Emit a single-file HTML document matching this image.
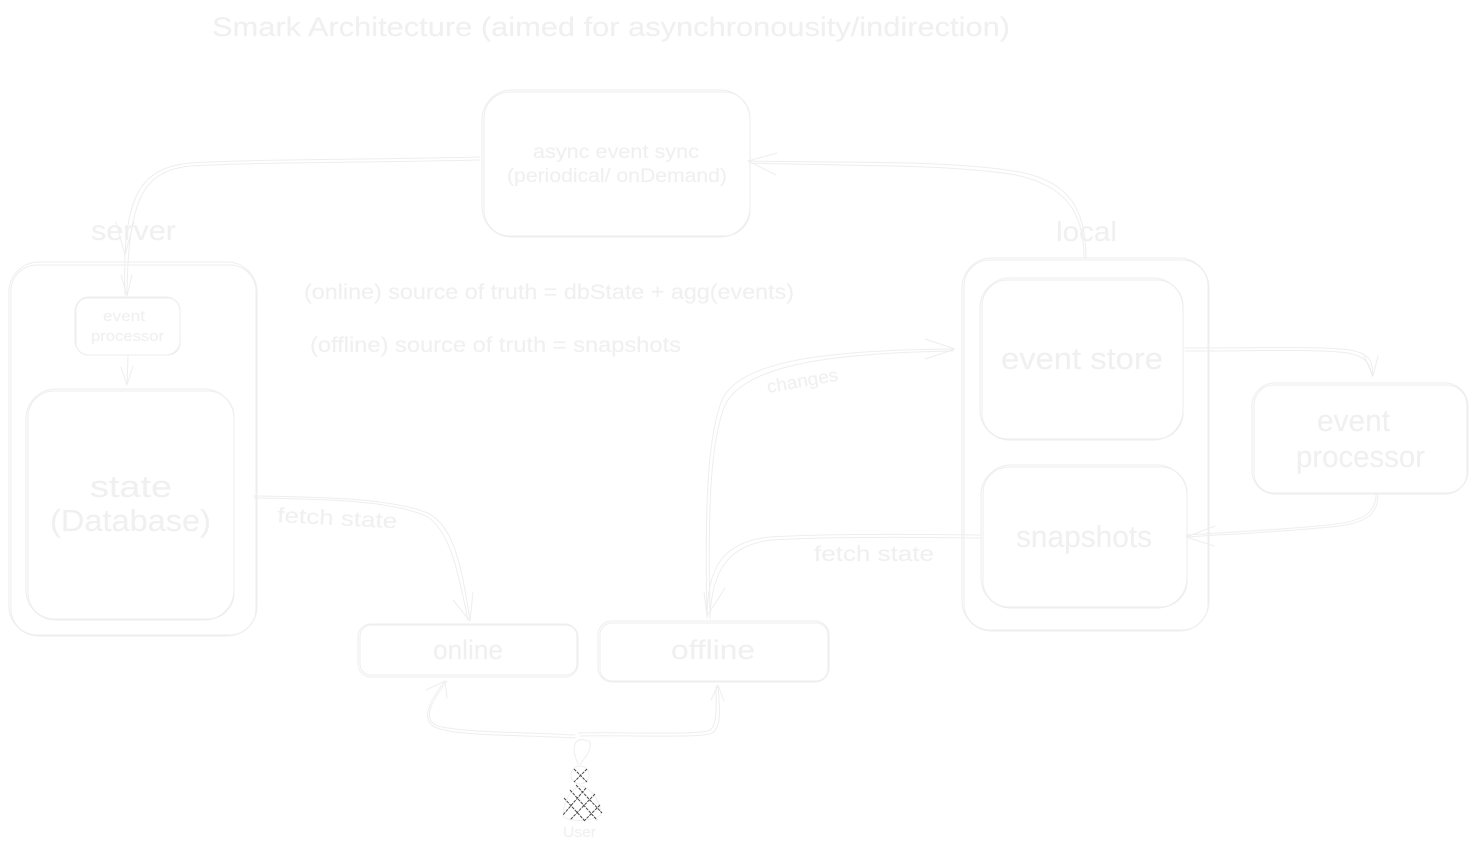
<!DOCTYPE html>
<html><head><meta charset="utf-8"><style>
html,body{margin:0;padding:0;background:#fff}
svg{display:block}
.l{fill:none;stroke:#eeeeee;stroke-width:1;stroke-linecap:round;stroke-linejoin:round}
text{font-family:"Liberation Sans",sans-serif;fill:#f0f0f0;stroke:#f2f2f2;stroke-width:.2}
</style></head><body>
<svg width="1478" height="852" viewBox="0 0 1478 852" xmlns="http://www.w3.org/2000/svg">
<g class="l">
<rect x="11" y="265" width="245" height="370" rx="26"/><rect x="9" y="262" width="248" height="374" rx="30"/>
<rect x="76" y="298" width="104" height="57" rx="12"/><rect x="75" y="297" width="105" height="58" rx="14"/>
<rect x="28" y="391" width="206" height="228" rx="26"/><rect x="26" y="389" width="208" height="231" rx="30"/>
<rect x="484" y="92" width="266" height="144" rx="26"/><rect x="482" y="90" width="268" height="147" rx="30"/>
<rect x="964" y="260" width="244" height="370" rx="26"/><rect x="962" y="258" width="247" height="373" rx="30"/>
<rect x="982" y="280" width="201" height="159" rx="26"/><rect x="980" y="278" width="203" height="162" rx="30"/>
<rect x="983" y="467" width="204" height="140" rx="26"/><rect x="981" y="465" width="206" height="143" rx="30"/>
<rect x="1254" y="385" width="213" height="108" rx="20"/><rect x="1252" y="383" width="216" height="111" rx="23"/>
<rect x="360" y="625" width="217" height="50" rx="11"/><rect x="358" y="624" width="220" height="53" rx="13"/>
<rect x="600" y="623" width="228" height="58" rx="12"/><rect x="598" y="621" width="231" height="61" rx="14"/>
<path d="M480 157C350 160 260 159 190 163C140 168 122 195 125 295"/><path d="M480 160C350 163 260 162 190 166C145 171 128 195 127 295"/>
<path d="M116 222L125 255L134 222M121 275L127 296L132 275"/>
<path d="M128 356L127 385M121 367L127 385L133 366"/>
<path d="M1086 258C1086 210 1070 182 1020 172C950 160 850 163 750 161"/><path d="M1084 258C1084 212 1066 186 1016 175C950 164 850 166 750 163"/>
<path d="M777 153L748 161L776 175"/>
<path d="M1185 348C1260 348 1320 346 1350 350C1372 354 1372 362 1373 376"/><path d="M1185 351C1260 351 1320 349 1348 353C1368 357 1370 365 1372 376"/>
<path d="M1364 356L1373 376L1378 356"/>
<path d="M1378 495C1378 515 1365 524 1330 527C1280 532 1230 534 1186 537"/><path d="M1376 495C1376 513 1362 522 1328 525C1280 530 1230 532 1186 535"/>
<path d="M1215 526L1186 537L1214 546"/>
<path d="M980 535C900 534 820 534 770 537C720 542 708 570 707 616"/><path d="M980 538C900 537 820 537 772 540C725 545 712 575 710 616"/>
<path d="M704 592L707 616L725 588"/>
<path d="M707 618C705 520 706 440 722 400C740 360 830 350 953 349"/><path d="M710 618C708 520 709 445 725 405C745 365 830 353 953 351"/>
<path d="M925 339L955 349L925 359"/>
<path d="M254 496C320 497 390 498 428 513C455 527 462 570 470 620"/><path d="M254 498C320 499 390 500 426 516C450 530 458 572 468 620"/>
<path d="M453 600L470 621L473 592"/>
<path d="M578 764C570 745 575 735 590 742C592 750 585 758 580 764M575 738C520 735 465 736 440 729C420 724 426 705 445 681M575 735C525 732 465 733 438 726C422 720 430 703 447 681"/>
<path d="M426 690L445 681L447 698"/>
<path d="M580 736C630 735 690 738 710 734C722 730 720 710 718 686M578 733C630 732 688 735 708 731C718 727 716 708 716 686"/>
<path d="M711 700L718 685L724 701"/>
<circle cx="580" cy="775" r="9"/>
<path d="M563 817C563 800 572 788 580 786C592 788 601 802 601 815C590 822 572 822 563 817Z"/>
</g>
<g fill="none" stroke="#444" stroke-width="1" stroke-dasharray="3 1">
<path d="M574 769L587 782M587 769L574 782"/>
<path d="M570 790L597 820M564 798L584 820M576 785L602 813M586 788L563 815M595 794L570 820M600 805L584 821"/>
</g>
<text x="212" y="36" font-size="27" textLength="798" lengthAdjust="spacingAndGlyphs">Smark Architecture (aimed for asynchronousity/indirection)</text>
<text x="533" y="158" font-size="19" textLength="166" lengthAdjust="spacingAndGlyphs">async event sync</text>
<text x="507" y="182" font-size="19" textLength="220" lengthAdjust="spacingAndGlyphs">(periodical/ onDemand)</text>
<text x="91" y="240" font-size="28" textLength="85" lengthAdjust="spacingAndGlyphs">server</text>
<text x="1056" y="241" font-size="28" textLength="61" lengthAdjust="spacingAndGlyphs">local</text>
<text x="103" y="321" font-size="15" textLength="42" lengthAdjust="spacingAndGlyphs">event</text>
<text x="91" y="341" font-size="15" textLength="73" lengthAdjust="spacingAndGlyphs">processor</text>
<text x="90" y="497" font-size="31" textLength="82" lengthAdjust="spacingAndGlyphs">state</text>
<text x="50" y="531" font-size="31" textLength="161" lengthAdjust="spacingAndGlyphs">(Database)</text>
<text x="304" y="299" font-size="21" textLength="490" lengthAdjust="spacingAndGlyphs">(online) source of truth = dbState + agg(events)</text>
<text x="310" y="352" font-size="21" textLength="371" lengthAdjust="spacingAndGlyphs">(offline) source of truth = snapshots</text>
<text x="1001" y="369" font-size="31" textLength="162" lengthAdjust="spacingAndGlyphs">event store</text>
<text x="1016" y="547" font-size="31" textLength="136" lengthAdjust="spacingAndGlyphs">snapshots</text>
<text x="1317" y="431" font-size="31" textLength="73" lengthAdjust="spacingAndGlyphs">event</text>
<text x="1296" y="467" font-size="31" textLength="129" lengthAdjust="spacingAndGlyphs">processor</text>
<text x="433" y="659" font-size="27" textLength="70" lengthAdjust="spacingAndGlyphs">online</text>
<text x="671" y="659" font-size="27" textLength="84" lengthAdjust="spacingAndGlyphs">offline</text>
<text x="277" y="522" font-size="21" textLength="120" lengthAdjust="spacingAndGlyphs" transform="rotate(3 277 522)">fetch state</text>
<text x="814" y="561" font-size="21" textLength="120" lengthAdjust="spacingAndGlyphs">fetch state</text>
<text x="768" y="393" font-size="18" textLength="72" lengthAdjust="spacingAndGlyphs" transform="rotate(-10 768 393)">changes</text>
<text x="563" y="837" font-size="15" textLength="33" lengthAdjust="spacingAndGlyphs">User</text>
</svg>
</body></html>
